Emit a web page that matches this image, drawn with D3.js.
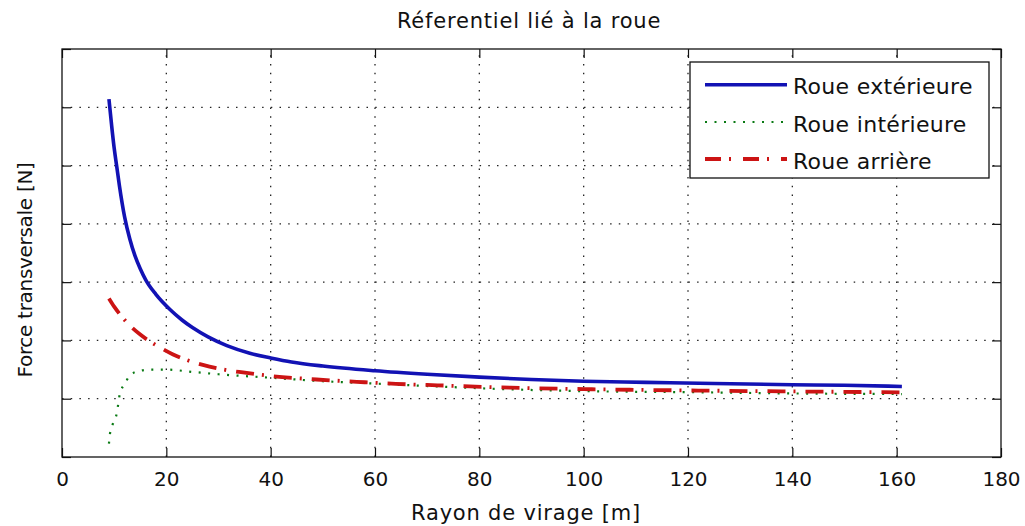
<!DOCTYPE html>
<html>
<head>
<meta charset="utf-8">
<script src="https://cdn.jsdelivr.net/npm/d3@7"></script>
<style>
  html, body { margin: 0; padding: 0; background: #ffffff; }
  svg { display: block; }
  text { font-family: "DejaVu Sans", sans-serif; fill: #111; }
</style>
</head>
<body>
<svg id="chart" width="1025" height="526"></svg>
<script>
// ---- data (y units are not labelled) ----
const title = "Réferentiel lié à la roue";
const xLabel = "Rayon de virage [m]";
const yLabel = "Force transversale [N]";
const xTicks = [0, 20, 40, 60, 80, 100, 120, 140, 160, 180];
const yTicks = [0, 1, 2, 3, 4, 5, 6, 7];
const seriesNames = ["Roue extérieure", "Roue intérieure", "Roue arrière"];

const exterieureX = [9, 9.5, 10, 10.5, 11, 12, 13, 14, 15, 16.1, 18, 20.7, 23, 25, 28, 31.6, 36, 40, 44, 50, 60, 70, 80, 90, 100, 112, 125, 140, 150, 161];
const exterieureY = [6.14, 5.7, 5.3, 4.98, 4.66, 4.12, 3.74, 3.45, 3.23, 3.03, 2.79, 2.53, 2.35, 2.22, 2.06, 1.91, 1.78, 1.70, 1.63, 1.56, 1.48, 1.42, 1.37, 1.33, 1.30, 1.28, 1.26, 1.24, 1.23, 1.21];

const interieureX = [9, 9.2, 9.8, 10.5, 10.8, 11.1, 12.1, 13, 15, 17, 20, 25, 30, 40, 50, 60, 72, 86, 100, 122, 140, 161];
const interieureY = [0.23, 0.40, 0.58, 0.75, 0.92, 1.09, 1.26, 1.40, 1.48, 1.50, 1.50, 1.46, 1.42, 1.36, 1.30, 1.26, 1.21, 1.16, 1.13, 1.11, 1.09, 1.08];

const arriereX = [9, 10, 11, 12.4, 15, 18.8, 21.3, 24, 27, 31, 34.7, 40, 48.8, 56.5, 64, 72, 86, 100, 122, 140, 161];
const arriereY = [2.72, 2.58, 2.46, 2.31, 2.10, 1.88, 1.76, 1.66, 1.58, 1.50, 1.45, 1.39, 1.33, 1.29, 1.255, 1.23, 1.19, 1.165, 1.14, 1.125, 1.11];

// ---- layout ----
const svg = d3.select("#chart");
const L = 62, R = 1001, T = 49, B = 457;
const x = d3.scaleLinear().domain([0, 180]).range([L, R]);
const y = d3.scaleLinear().domain([0, 7]).range([B, T]);

svg.append("rect").attr("width", 1025).attr("height", 526).attr("fill", "#ffffff");

// grid (dotted)
const grid = svg.append("g").attr("stroke", "#222").attr("stroke-width", 1.3).attr("stroke-dasharray", "1.5,7.2");
xTicks.slice(1, -1).forEach(t => {
  grid.append("line").attr("x1", x(t)).attr("x2", x(t)).attr("y1", B).attr("y2", T);
});
yTicks.slice(1, -1).forEach(t => {
  grid.append("line").attr("x1", L).attr("x2", R).attr("y1", y(t)).attr("y2", y(t));
});

// axes with inward ticks (mirrored on top/right)
const tl = 9;
const axB = svg.append("g").attr("transform", `translate(0,${B})`)
  .call(d3.axisBottom(x).tickValues(xTicks).tickSizeInner(-tl).tickSizeOuter(0).tickPadding(tl + 6).tickFormat(d3.format("d")));
const axT = svg.append("g").attr("transform", `translate(0,${T})`)
  .call(d3.axisTop(x).tickValues(xTicks).tickSizeInner(-tl).tickSizeOuter(0).tickFormat(""));
const axL = svg.append("g").attr("transform", `translate(${L},0)`)
  .call(d3.axisLeft(y).tickValues(yTicks).tickSizeInner(-tl).tickSizeOuter(0).tickFormat(""));
const axR = svg.append("g").attr("transform", `translate(${R},0)`)
  .call(d3.axisRight(y).tickValues(yTicks).tickSizeInner(-tl).tickSizeOuter(0).tickFormat(""));
[axB, axT, axL, axR].forEach(a => {
  a.select(".domain").remove();
  a.selectAll(".tick line").attr("stroke", "#111").attr("stroke-width", 1.2);
});
axB.selectAll(".tick text")
  .attr("font-family", "DejaVu Sans, sans-serif")
  .attr("font-size", 20).attr("fill", "#111");

// data lines
const lineGen = d3.line().x(d => x(d[0])).y(d => y(d[1])).curve(d3.curveMonotoneX);
const zip = (a, b) => a.map((v, i) => [v, b[i]]);
const plot = svg.append("g");
plot.append("path").datum(zip(exterieureX, exterieureY))
  .attr("d", lineGen).attr("fill", "none").attr("stroke", "#1212b4").attr("stroke-width", 3.6);
plot.append("path").datum(zip(interieureX, interieureY))
  .attr("d", lineGen).attr("fill", "none").attr("stroke", "#0a7a14").attr("stroke-width", 2.2)
  .attr("stroke-dasharray", "2,7.5");
plot.append("path").datum(zip(arriereX, arriereY))
  .attr("d", lineGen).attr("fill", "none").attr("stroke", "#cc1414").attr("stroke-width", 3.8)
  .attr("stroke-dasharray", "18,8,2,10");

// box
svg.append("rect").attr("x", L).attr("y", T).attr("width", R - L).attr("height", B - T)
  .attr("fill", "none").attr("stroke", "#111").attr("stroke-width", 1.3);

// title & labels
svg.append("text").attr("x", 529).attr("y", 28).attr("text-anchor", "middle")
  .attr("font-size", 21).attr("letter-spacing", 0.8).text(title);
svg.append("text").attr("x", 526).attr("y", 520).attr("text-anchor", "middle")
  .attr("font-size", 21).attr("letter-spacing", 0.8).text(xLabel);
svg.append("text").attr("transform", "translate(32,270) rotate(-90)").attr("text-anchor", "middle")
  .attr("font-size", 20).attr("letter-spacing", -0.3).text(yLabel);

// legend
const leg = svg.append("g");
leg.append("rect").attr("x", 690).attr("y", 62).attr("width", 299).attr("height", 116)
  .attr("fill", "#ffffff").attr("stroke", "#111").attr("stroke-width", 1.3);
const styles = [
  { stroke: "#1212b4", w: 3.6, dash: null },
  { stroke: "#0a7a14", w: 2.2, dash: "2,7.5" },
  { stroke: "#cc1414", w: 3.8, dash: "16,8,2,12" }
];
const baselines = [94.3, 131.5, 168.5];
seriesNames.forEach((name, i) => {
  const ly = baselines[i] - 9.5;
  const ln = leg.append("line").attr("x1", 705).attr("x2", 787).attr("y1", ly).attr("y2", ly)
    .attr("stroke", styles[i].stroke).attr("stroke-width", styles[i].w);
  if (styles[i].dash) ln.attr("stroke-dasharray", styles[i].dash);
  leg.append("text").attr("x", 793).attr("y", baselines[i])
    .attr("font-size", 22).attr("letter-spacing", 0.3).text(name);
});
</script>
</body>
</html>
